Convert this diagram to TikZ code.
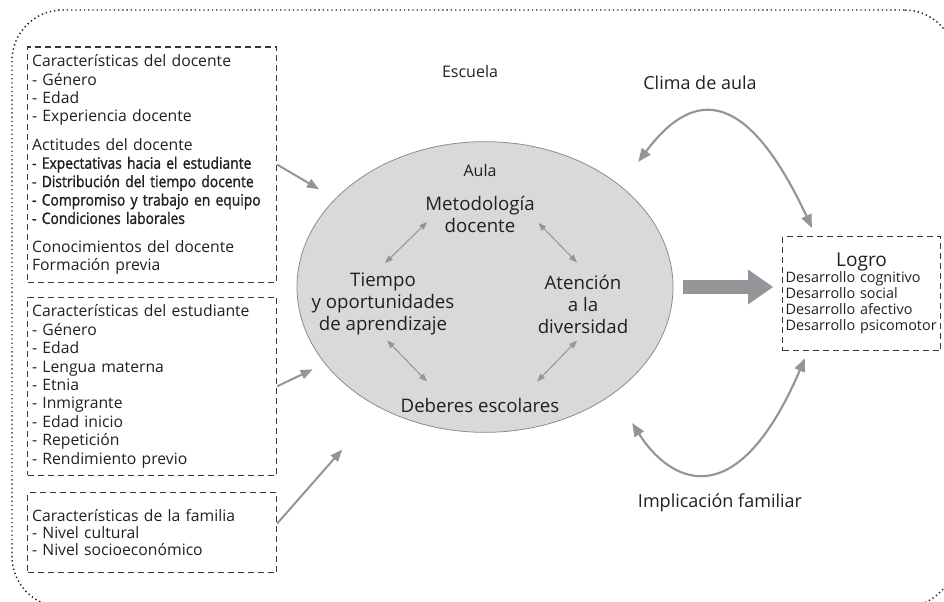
\documentclass[tikz,border=0pt]{standalone}
\usepackage{fontspec}
\setmainfont{Open Sans}
\newfontfamily\semibold[FakeBold=1.4, FakeStretch=0.88]{Open Sans}
\usetikzlibrary{arrows.meta, positioning, shapes.geometric, calc}
\definecolor{inkgray}{RGB}{35,31,32}
\definecolor{arrowgray}{RGB}{148,149,153}
\definecolor{aulafill}{RGB}{216,217,219}
\definecolor{aulaedge}{RGB}{140,140,143}
\definecolor{boxgray}{RGB}{55,55,55}

\begin{document}
\begin{tikzpicture}[x=0.75pt, y=0.75pt,
    schoolframe/.style={draw=inkgray, rounded corners=38pt, dash pattern=on 1pt off 2.2pt, line width=1.1pt},
    factors/.style={draw=boxgray, dash pattern=on 4.5pt off 3pt, line width=0.9pt, minimum width=186.75pt, text width=180pt, inner xsep=3.375pt, inner ysep=0pt, align=left, text=inkgray, font=\fontsize{11.8}{13.8}\selectfont, execute at begin node={\hyphenpenalty=10000}},
    result/.style={draw=boxgray, dash pattern=on 4.5pt off 3pt, line width=0.9pt, minimum width=118.5pt, minimum height=85.5pt, text width=114pt, inner xsep=2.25pt, inner ysep=0pt, align=left, text=inkgray, font=\fontsize{10.8}{12}\selectfont, execute at begin node={\hyphenpenalty=10000}},
    aula/.style={ellipse, draw=aulaedge, fill=aulafill, line width=0.6pt, minimum width=282pt, minimum height=218pt, inner sep=0pt},
    aulatext/.style={align=center, inner sep=0pt, text=inkgray, font=\fontsize{14}{16.5}\selectfont},
    labeltext/.style={text=inkgray, font=\fontsize{12}{14}\selectfont},
    looplabel/.style={text=inkgray, font=\fontsize{13.5}{16}\selectfont},
    arrow/.style={-{Triangle[length=9pt, width=7pt]}, line width=1.5pt, draw=arrowgray},
    link/.style={{Triangle[length=6pt, width=4.5pt]}-{Triangle[length=6pt, width=4.5pt]}, line width=0.75pt, draw=arrowgray},
    loopline/.style={{Triangle[length=10pt, width=8pt]}-{Triangle[length=10pt, width=8pt]}, line width=1.6pt, draw=arrowgray},
    bigarrow/.style={-{Triangle[length=18.75pt, width=26.25pt, line width=0pt]}, line width=10.5pt, draw=arrowgray}
]
\useasboundingbox (0,0) rectangle (944,-602);
\clip (0,0) rectangle (944,-602);

% escuela
\node[schoolframe, minimum width=707.25pt, minimum height=447.75pt] (escuela) at (483.5,-308.5) {};
\node[labeltext] (escuelalabel) at (470,-72) {Escuela};

% factores de entrada
\node[factors, anchor=north west, minimum height=176.25pt] (docente) at (27,-46.5) {Características del docente\\
- Género\\
- Edad\\
- Experiencia docente\\[7.5pt]
Actitudes del docente\\
{\semibold - Expectativas hacia el estudiante}\\
{\semibold - Distribución del tiempo docente}\\
{\semibold - Compromiso y trabajo en equipo}\\
{\semibold - Condiciones laborales}\\[7.5pt]
Conocimientos del docente\\
Formación previa};
\node[factors, below=10.5pt of docente, minimum height=133.5pt] (estudiante) {Características del estudiante\\
- Género\\
- Edad\\
- Lengua materna\\
- Etnia\\
- Inmigrante\\
- Edad inicio\\
- Repetición\\
- Rendimiento previo};
\node[factors, below=12pt of estudiante, minimum height=60pt, font=\fontsize{11.8}{12.5}\selectfont] (familia) {Características de la familia\\
- Nivel cultural\\
- Nivel socioeconómico};

% aula
\node[aula] (aula) at (485,-287) {};
\node[labeltext] (aulalabel) at (480,-170) {Aula};
\node[aulatext] (metodologia) at (480,-214) {Metodología\\docente};
\node[aulatext] (tiempo) at (383,-304) {Tiempo\\y oportunidades\\de aprendizaje};
\node[aulatext] (atencion) at (583,-304) {Atención\\a la\\diversidad};
\node[aulatext] (deberes) at (480,-405) {Deberes escolares};

\draw[link] ($(metodologia.west)+(2,-8)$) -- ($(tiempo.north)+(2,9.5)$);
\draw[link] ($(metodologia.east)+(3.5,-9)$) -- ($(atencion.north)+(-6,12)$);
\draw[link] ($(tiempo.south)+(4,-5)$) -- ($(deberes.north)+(-53,16)$);
\draw[link] ($(atencion.south)+(-6,-7)$) -- ($(deberes.north)+(57,16)$);

% logro
\node[result, anchor=north west] (logro) at (782,-236) {{\centering\fontsize{14.3}{16}\selectfont Logro\par}Desarrollo cognitivo\\
Desarrollo social\\
Desarrollo afectivo\\
Desarrollo psicomotor};

\draw[arrow, shorten >=14pt] (docente.east) -- (aula);
\draw[arrow, shorten >=10pt] (estudiante.east) -- (aula);
\draw[arrow, shorten >=42pt] ([yshift=6.75pt]familia.east) -- (aula);
\draw[bigarrow, shorten <=7.5pt, shorten >=6.75pt] (aula.east) -- (aula.east -| logro.west);

% clima e implicacion
\draw[loopline] ([shift={(20,22)}]aula.north east) .. controls +(50,67) and +(-70,150) .. ([shift={(30,8)}]logro.north west);
\draw[loopline] ([shift={(14,-33)}]aula.south east) .. controls +(36,-57) and +(-70,-163) .. ([shift={(23,-7)}]logro.south west);
\node[looplabel] (clima) at (700,-83) {Clima de aula};
\node[looplabel] (familiar) at (720,-503) {Implicación familiar};
\end{tikzpicture}
\end{document}
